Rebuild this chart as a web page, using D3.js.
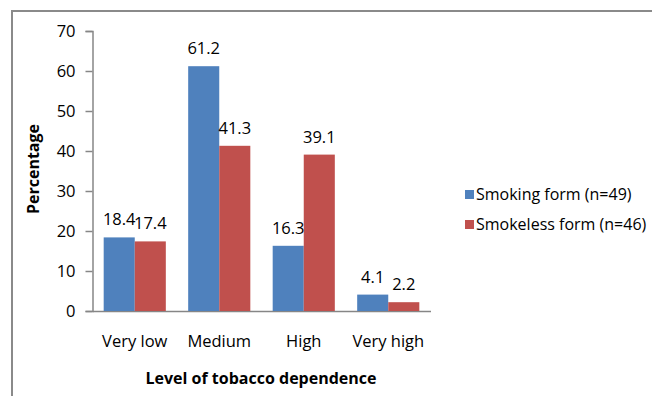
<!DOCTYPE html>
<html>
<head>
<meta charset="utf-8">
<script src="https://cdn.jsdelivr.net/npm/d3@7"></script>
<style>
  body { margin: 0; background: #fff; }
  svg text { font-family: "Open Sans", sans-serif; fill: #000; }
</style>
</head>
<body>
<div id="chart"></div>
<script>
// data
var categories = ["Very low", "Medium", "High", "Very high"];
var seriesNames = ["Smoking form (n=49)", "Smokeless form (n=46)"];
var smoking = [18.4, 61.2, 16.3, 4.1];
var smokeless = [17.4, 41.3, 39.1, 2.2];
var yTicks = [0, 10, 20, 30, 40, 50, 60, 70];

var colors = ["#4F81BD", "#C0504D"];

var svgWidth = 652;
var svgHeight = 396;

var plot = { left: 92.5, right: 430.5, top: 31, bottom: 311 };

var svg = d3.select("#chart")
    .append("svg")
    .attr("width", svgWidth)
    .attr("height", svgHeight);

// outer frame
svg.append("rect")
    .attr("x", 12)
    .attr("y", 11)
    .attr("width", 700)
    .attr("height", 500)
    .attr("fill", "none")
    .attr("stroke", "#8a8a8a")
    .attr("stroke-width", 2);

var x0 = d3.scaleBand()
    .domain(categories)
    .range([plot.left, plot.right]);

var x1 = d3.scaleBand()
    .domain([0, 1])
    .range([0, x0.bandwidth()])
    .paddingInner(0)
    .paddingOuter(0.36);

var y = d3.scaleLinear()
    .domain([0, 70])
    .range([plot.bottom, plot.top]);

// y axis
var leftAxis = d3.axisLeft(y).tickValues(yTicks).tickSize(7).tickPadding(10);
var yAxisG = svg.append("g")
    .attr("transform", `translate(${plot.left}, 0)`)
    .call(leftAxis);
yAxisG.select(".domain").attr("stroke", "#868686").attr("stroke-width", 1.5);
yAxisG.selectAll(".tick line").attr("stroke", "#868686").attr("stroke-width", 1.5);
yAxisG.selectAll(".tick text")
    .attr("font-size", 16.5)
    .attr("font-family", "Open Sans, sans-serif");

// x axis
var bottomAxis = d3.axisBottom(x0).tickSize(0).tickPadding(24);
var xAxisG = svg.append("g")
    .attr("transform", `translate(0, ${plot.bottom})`)
    .call(bottomAxis);
xAxisG.select(".domain").attr("stroke", "#868686").attr("stroke-width", 1.5);
xAxisG.selectAll(".tick text")
    .attr("font-size", 16.5)
    .attr("font-family", "Open Sans, sans-serif");

// bars
var rows = categories.map(function(c, i) {
    return { cat: c, values: [smoking[i], smokeless[i]] };
});

var groups = svg.append("g")
    .selectAll("g")
    .data(rows)
    .enter()
    .append("g")
    .attr("transform", d => `translate(${x0(d.cat)}, 0)`);

groups.selectAll("rect")
    .data(d => d.values.map((v, j) => ({ v: v, j: j })))
    .enter()
    .append("rect")
    .attr("x", d => x1(d.j))
    .attr("y", d => y(d.v))
    .attr("width", x1.bandwidth())
    .attr("height", d => plot.bottom - y(d.v))
    .attr("fill", d => colors[d.j]);

groups.selectAll("text.val")
    .data(d => d.values.map((v, j) => ({ v: v, j: j })))
    .enter()
    .append("text")
    .attr("class", "val")
    .attr("x", d => x1(d.j) + x1.bandwidth() / 2)
    .attr("y", d => y(d.v) - 12)
    .attr("text-anchor", "middle")
    .attr("font-size", 16.5)
    .text(d => d.v.toFixed(1));

// axis labels
svg.append("text")
    .attr("transform", "rotate(-90)")
    .attr("x", -169)
    .attr("y", 39)
    .attr("text-anchor", "middle")
    .attr("font-size", 16)
    .attr("font-weight", "bold")
    .text("Percentage");

svg.append("text")
    .attr("x", 261)
    .attr("y", 384)
    .attr("text-anchor", "middle")
    .attr("font-size", 16)
    .attr("font-weight", "bold")
    .text("Level of tobacco dependence");

// legend
var legend = svg.append("g")
    .selectAll("g")
    .data(seriesNames)
    .enter()
    .append("g")
    .attr("transform", (d, i) => `translate(465, ${190 + i * 30})`);

legend.append("rect")
    .attr("width", 9)
    .attr("height", 9)
    .attr("fill", (d, i) => colors[i]);

legend.append("text")
    .attr("x", 11)
    .attr("y", 10)
    .attr("font-size", 16)
    .text(d => d);
</script>
</body>
</html>
